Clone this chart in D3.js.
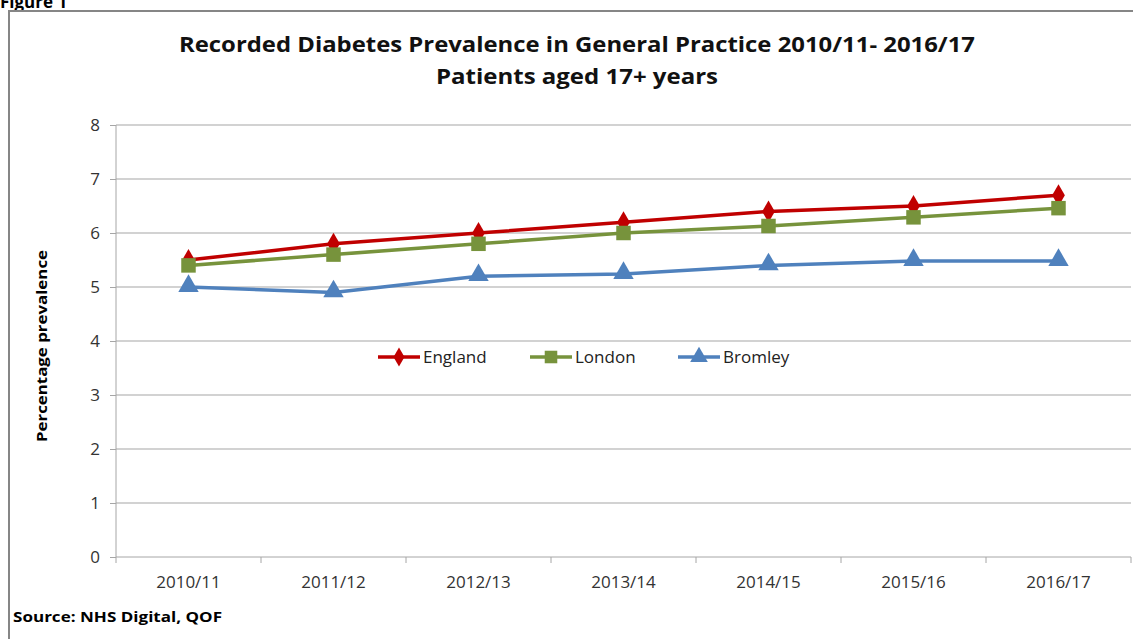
<!DOCTYPE html>
<html>
<head>
<meta charset="utf-8">
<style>
  body { margin: 0; background: #fff; }
  svg { display: block; font-family: "Open Sans", "Liberation Sans", sans-serif; }
</style>
</head>
<body>
<div class="chart"></div>
<script src="https://d3js.org/d3.v7.min.js"></script>
<script>
const years = ['2010/11', '2011/12', '2012/13', '2013/14', '2014/15', '2015/16', '2016/17'];
const england = [5.5, 5.8, 6.0, 6.2, 6.4, 6.5, 6.7];
const london = [5.4, 5.6, 5.8, 6.0, 6.13, 6.29, 6.46];
const bromley = [5.0, 4.9, 5.2, 5.24, 5.4, 5.48, 5.48];
const yTicks = [0, 1, 2, 3, 4, 5, 6, 7, 8];

const width = 1133, height = 639;
const plot = { left: 116, right: 1131, top: 125, bottom: 557 };

const svg = d3.select('.chart').append('svg')
  .attr('width', width).attr('height', height);

// "Figure 1" heading, partly cut at the top like the source image
svg.append('text')
  .attr('x', 0).attr('y', 8)
  .style('font-weight', 'bold').style('font-size', '17px')
  .text('Figure 1');

// frame
svg.append('path')
  .attr('d', `M9,${height} V11 H${width}`)
  .attr('fill', 'none').attr('stroke', '#868686').attr('stroke-width', 2);

const x = d3.scaleBand().domain(years).range([plot.left, plot.right]);
const y = d3.scaleLinear().domain([0, 8]).range([plot.bottom, plot.top]);

// gridlines
svg.append('g').selectAll('line')
  .data(yTicks.filter(d => d > 0))
  .join('line')
  .attr('x1', plot.left).attr('x2', plot.right)
  .attr('y1', d => y(d)).attr('y2', d => y(d))
  .attr('stroke', '#a6a6a6').attr('stroke-width', 1.2);

// y axis
const yAxis = d3.axisLeft(y).tickValues(yTicks).tickSize(6).tickPadding(10);
const yg = svg.append('g').attr('transform', `translate(${plot.left},0)`).call(yAxis);
yg.select('.domain').attr('stroke', '#a6a6a6').attr('d', `M0,${plot.top}V${plot.bottom}`);
yg.selectAll('.tick line').attr('stroke', '#a6a6a6');
yg.selectAll('text').style('font-size', '17px').attr('fill', '#333')
  .style('font-family', '"Open Sans", sans-serif');

// x axis
const xAxis = d3.axisBottom(x).tickSize(0).tickPadding(19);
const xg = svg.append('g').attr('transform', `translate(0,${plot.bottom})`).call(xAxis);
xg.select('.domain').attr('stroke', '#a6a6a6').attr('d', `M${plot.left},0H${plot.right}`);
xg.selectAll('text').style('font-size', '17px').attr('fill', '#333')
  .style('font-family', '"Open Sans", sans-serif');
// boundary ticks between categories
xg.append('g').selectAll('line')
  .data(years.map(d => x(d)).concat([plot.right]))
  .join('line')
  .attr('x1', d => d).attr('x2', d => d)
  .attr('y1', 0).attr('y2', 6)
  .attr('stroke', '#a6a6a6');

// series
const series = [
  { name: 'England', values: england, color: '#C00000', symbol: d3.symbolDiamond, size: 140, lx: 378 },
  { name: 'London', values: london, color: '#77933C', symbol: d3.symbolSquare, size: 210, lx: 530 },
  { name: 'Bromley', values: bromley, color: '#4F81BD', symbol: d3.symbolTriangle, size: 180, lx: 678 }
];

const cx = d => x(d) + x.bandwidth() / 2;
const line = d3.line().x(d => cx(d[0])).y(d => y(d[1]));

series.forEach(s => {
  const pts = years.map((yr, i) => [yr, s.values[i]]);
  svg.append('path')
    .attr('d', line(pts))
    .attr('fill', 'none').attr('stroke', s.color).attr('stroke-width', 3.5);
  svg.append('g').selectAll('path')
    .data(pts)
    .join('path')
    .attr('d', d3.symbol(s.symbol, s.size))
    .attr('transform', d => `translate(${cx(d[0])},${y(d[1]) - (s.symbol === d3.symbolTriangle ? 1 : 0)})`)
    .attr('fill', s.color);
});

// legend
const lg = svg.append('g').attr('transform', 'translate(0,357)');
series.forEach(s => {
  lg.append('line').attr('x1', s.lx).attr('x2', s.lx + 42)
    .attr('stroke', s.color).attr('stroke-width', 3.5);
  lg.append('path').attr('d', d3.symbol(s.symbol, s.size * 0.75))
    .attr('transform', `translate(${s.lx + 21},0)`).attr('fill', s.color);
  lg.append('text').attr('x', s.lx + 45).attr('y', 6)
    .style('font-size', '17px').attr('fill', '#222')
    .text(s.name);
});

// title
const title = svg.append('g').style('font-weight', 'bold').style('font-size', '22px')
  .attr('text-anchor', 'middle').attr('fill', '#111');
title.append('text').attr('x', 577).attr('y', 52)
  .attr('textLength', 796).attr('lengthAdjust', 'spacingAndGlyphs')
  .text('Recorded Diabetes Prevalence in General Practice  2010/11- 2016/17');
title.append('text').attr('x', 577).attr('y', 84)
  .attr('textLength', 282).attr('lengthAdjust', 'spacingAndGlyphs')
  .text('Patients  aged 17+ years');

// y label
svg.append('text')
  .attr('transform', 'translate(47,346) rotate(-90)')
  .attr('text-anchor', 'middle')
  .style('font-weight', 'bold').style('font-size', '15px')
  .attr('textLength', 192).attr('lengthAdjust', 'spacingAndGlyphs')
  .text('Percentage prevalence');

// source
svg.append('text').attr('x', 13).attr('y', 622)
  .style('font-weight', 'bold').style('font-size', '15px')
  .attr('textLength', 209).attr('lengthAdjust', 'spacingAndGlyphs')
  .text('Source: NHS Digital, QOF');
</script>
</body>
</html>
